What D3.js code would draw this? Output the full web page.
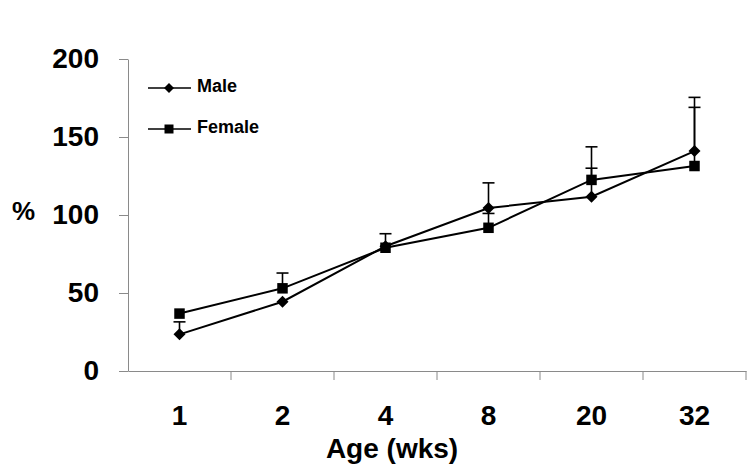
<!DOCTYPE html>
<html><head><meta charset="utf-8">
<script src="https://cdn.jsdelivr.net/npm/d3@7"></script>
<style>
html,body{margin:0;padding:0;background:#fff;}
svg{display:block;font-family:"Liberation Sans",Arial,sans-serif;font-weight:bold;}
</style></head>
<body><svg id="c" width="750" height="474"></svg>
<script>
const categories = ["1","2","4","8","20","32"];
const maleValues = [23.5, 44.4, 80, 104.5, 111.7, 141];
const maleErrUpper = [31.5, null, 88, 120.6, 143.7, 175.4];
const femaleValues = [36.8, 53, 79, 91.8, 122.5, 131.4];
const femaleErrUpper = [null, 62.8, null, 101, 130, 169];
const yTicks = [0, 50, 100, 150, 200];
const seriesNames = ["Male", "Female"];

const svg = d3.select("#c");
const x = d3.scaleBand().domain(categories).range([128, 746]);
const y = d3.scaleLinear().domain([0, 200]).range([371, 59]);
const axisColor = "#8a8a8a";

// Y axis
const gy = svg.append("g").attr("transform", "translate(128,0)")
  .call(d3.axisLeft(y).tickValues(yTicks).tickSize(9).tickSizeOuter(0).tickPadding(20));
gy.select(".domain").attr("stroke", axisColor);
gy.selectAll(".tick line").attr("stroke", axisColor);
gy.selectAll(".tick text").attr("fill", "#000").style("font-size", "28px")
  .style("font-family", "'Liberation Sans',Arial,sans-serif").style("font-weight", "bold");

// X axis
const gx = svg.append("g").attr("transform", "translate(0,371)")
  .call(d3.axisBottom(x).tickSize(0).tickSizeOuter(0).tickPadding(34));
gx.select(".domain").attr("stroke", axisColor);
gx.selectAll(".tick text").attr("fill", "#000").style("font-size", "28px")
  .style("font-family", "'Liberation Sans',Arial,sans-serif").style("font-weight", "bold");
const edges = categories.map(c => x(c) + x.bandwidth());
gx.selectAll(".edge").data(edges).enter().append("line")
  .attr("x1", d => d).attr("x2", d => d).attr("y1", 0).attr("y2", 9)
  .attr("stroke", axisColor);

// Axis titles
svg.append("text").attr("x", 392).attr("y", 458).attr("text-anchor", "middle")
  .style("font-size", "28px").text("Age (wks)");
svg.append("text").attr("x", 12).attr("y", 220)
  .style("font-size", "26px").text("%");

const cx = c => x(c) + x.bandwidth() / 2;
const line = d3.line().x((d, i) => cx(categories[i])).y(d => y(d));

const series = [
  {name: seriesNames[0], vals: maleValues, err: maleErrUpper},
  {name: seriesNames[1], vals: femaleValues, err: femaleErrUpper}
];

const diamond = (s) => { const h = s/2; return `M0,${-h}L${h},0L0,${h}L${-h},0Z`; };
const square = (s) => { const h = s/2; return `M${-h},${-h}H${h}V${h}H${-h}Z`; };

series.forEach((s, k) => {
  svg.append("path").datum(s.vals).attr("d", line)
    .attr("fill", "none").attr("stroke", "#000").attr("stroke-width", 2);
});
series.forEach((s, k) => {
  s.err.forEach((e, i) => {
    if (e == null) return;
    const px = cx(categories[i]);
    svg.append("line").attr("x1", px).attr("x2", px)
      .attr("y1", y(s.vals[i])).attr("y2", y(e)).attr("stroke", "#000").attr("stroke-width", 1.6);
    svg.append("line").attr("x1", px - 6).attr("x2", px + 6)
      .attr("y1", y(e)).attr("y2", y(e)).attr("stroke", "#000").attr("stroke-width", 1.6);
  });
});
series.forEach((s, k) => {
  svg.selectAll(".m" + k).data(s.vals).enter().append("path")
    .attr("transform", (d, i) => `translate(${cx(categories[i])},${y(d)})`)
    .attr("d", k === 0 ? diamond(12) : square(10.5)).attr("fill", "#000");
});

// Legend
const legY = [88, 129];
series.forEach((s, k) => {
  const g = svg.append("g").attr("transform", `translate(0,${legY[k]})`);
  g.append("line").attr("x1", 148).attr("x2", 191).attr("y1", 0).attr("y2", 0)
    .attr("stroke", "#000").attr("stroke-width", 1.6);
  g.append("path").attr("transform", "translate(169,0)")
    .attr("d", k === 0 ? diamond(10) : square(9)).attr("fill", "#000");
  g.append("text").attr("x", 197).attr("y", 4)
    .style("font-size", "18px").text(s.name);
});
</script></body></html>
